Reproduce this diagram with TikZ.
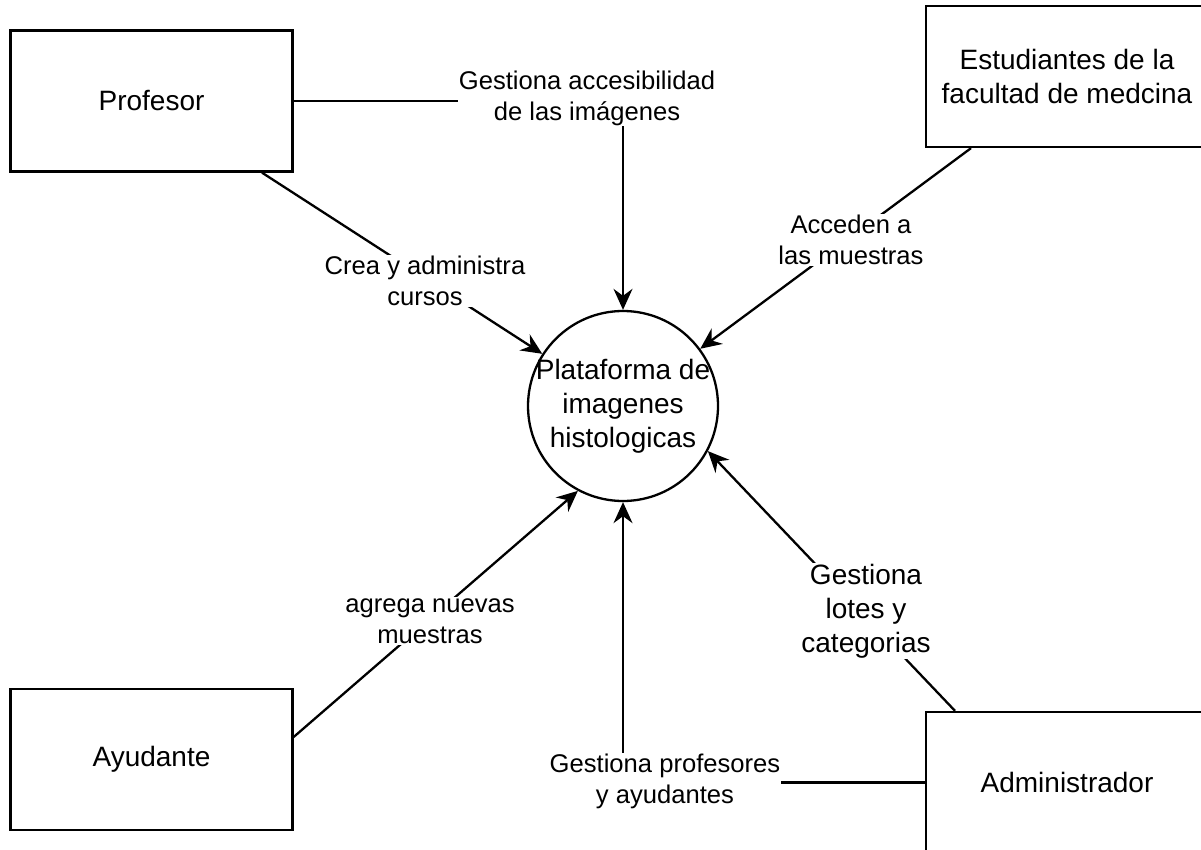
\documentclass[tikz,border=0pt]{standalone}
\usepackage{fontspec}
\setmainfont{Liberation Sans}
\usetikzlibrary{arrows.meta,calc}
\begin{document}
\begin{tikzpicture}[x=1pt,y=-1pt,
  entity/.style={draw, line width=2.3pt, minimum width=282pt, minimum height=141pt,
    inner sep=0pt, align=center, font=\fontsize{28}{34}\selectfont},
  process/.style={draw, circle, line width=2.3pt, minimum size=190pt, inner sep=0pt},
  proctext/.style={align=center, inner sep=0pt, font=\fontsize{28}{34}\selectfont},
  flow/.style={line width=2.3pt, -{Stealth[length=21pt,width=19pt,inset=7pt]}},
  lbl/.style={fill=white, inner sep=1pt, align=center, font=\fontsize{25.6}{31}\selectfont},
  biglbl/.style={fill=white, inner sep=1pt, align=center, font=\fontsize{28}{34}\selectfont}]
\useasboundingbox (0,0) rectangle (1201,850);
\fill[white] (0,0) rectangle (1201,850);

% external entities and the central process
\node[entity] (prof) at (151.5,101) {Profesor};
\node[entity] (est) at (1067,76.5) {Estudiantes de la\\facultad de medcina};
\node[entity] (ayud) at (151.5,759.5) {Ayudante};
\node[entity] (admin) at (1067,782.5) {Administrador};
\node[process] (plat) at (623,406) {};
\node[proctext] (plattxt) at (623,406) {Plataforma de\\imagenes\\histologicas};

% data flows
\draw[flow] (prof.east) -| (plat.north);
\draw[flow] ($(prof.south)+(110.5,0)$) -- (plat);
\draw[flow] ($(est.south)+(-96,0)$) -- (plat);
\draw[flow] ($(ayud.east)+(0,-22.5)$) -- (plat.242);
\draw[flow] (admin.west) -| (plat.south);
\draw[flow] ($(admin.north)+(-112,0)$) -- (plat.332);

% flow labels
\node[lbl] (l1) at (587,98) {Gestiona accesibilidad\\de las imágenes};
\node[lbl] (l2) at (425,281) {Crea y administra\\cursos};
\node[lbl] (l3) at (851,240) {Acceden a\\las muestras};
\node[lbl] (l4) at (430,621) {agrega nuevas\\muestras};
\node[lbl] (l5) at (665,781) {Gestiona profesores\\y ayudantes};
\node[biglbl] (l6) at (866,611) {Gestiona\\lotes y\\categorias};
\end{tikzpicture}
\end{document}
